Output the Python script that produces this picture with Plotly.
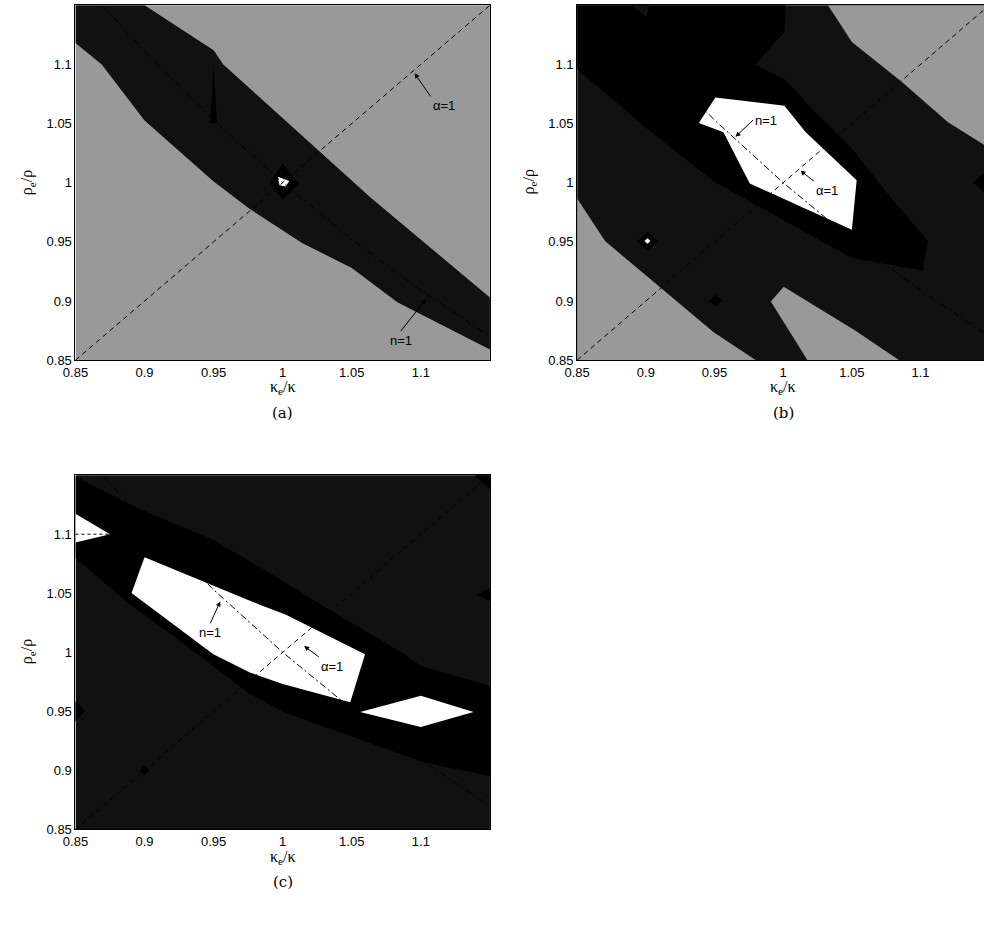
import plotly.graph_objects as go

W, H = 984, 927
GRAY, DARK, BLACK, WHITE = "#999999", "#111111", "#000000", "#ffffff"

# ---------------- data ----------------
tick_vals = [0.85, 0.9, 0.95, 1.0, 1.05, 1.1]
tick_text = ["0.85", "0.9", "0.95", "1", "1.05", "1.1"]

full_x = [0.85, 1.16, 1.16, 0.85]
full_y = [0.85, 0.85, 1.16, 1.16]

alpha_x = [0.85, 1.16]
alpha_y = [0.85, 1.16]
n_x = [0.87, 0.9, 0.95, 1.0, 1.05, 1.1, 1.15]
n_y = [1.149, 1.111, 1.053, 1.0, 0.952, 0.909, 0.870]

# panel (a)
a_band_x = [0.85, 0.9, 0.95, 0.957, 1.064, 1.15, 1.15, 1.083, 1.05, 1.014, 0.976, 0.95, 0.9, 0.869, 0.85]
a_band_y = [1.15, 1.15, 1.112, 1.100, 0.987, 0.903, 0.859, 0.899, 0.928, 0.949, 0.978, 1.001, 1.0525, 1.100, 1.118]
a_spike_x = [0.95, 0.9475, 0.9525]
a_spike_y = [1.099, 1.05, 1.05]
a_diam_x = [0.9905, 1.0, 1.0118, 1.0]
a_diam_y = [1.0, 1.0165, 0.999, 0.986]
a_white_x = [0.9964, 1.0048, 1.002, 0.9977]
a_white_y = [1.005, 1.0014, 0.9967, 0.9978]

# panel (b)
b_gray_ur_x = [1.027, 1.05, 1.086, 1.12, 1.16, 1.16]
b_gray_ur_y = [1.16, 1.119, 1.0855, 1.051, 1.022, 1.16]
b_gray_ll_x = [0.85, 0.8703, 0.9494, 0.9802, 0.85]
b_gray_ll_y = [0.9867, 0.9507, 0.8735, 0.85, 0.85]
b_gray_w_x = [0.991, 1.0004, 1.0521, 1.0845, 1.0177]
b_gray_w_y = [0.8995, 0.9121, 0.8752, 0.85, 0.85]
b_black_x = [0.85, 1.002, 1.001, 0.9795, 1.001, 1.0226, 1.05, 1.0787, 1.1053, 1.1017, 1.05, 0.978, 0.9494, 0.9012, 0.85]
b_black_y = [1.16, 1.16, 1.1277, 1.1, 1.0874, 1.0606, 1.0289, 0.9869, 0.9507, 0.9255, 0.9364, 0.9826, 1.001, 1.0455, 1.0958]
b_notch_x = [0.8776, 0.9048, 0.9005]
b_notch_y = [1.16, 1.16, 1.1402]
b_white_x = [0.9386, 0.9506, 1.0009, 1.0164, 1.0535, 1.05, 0.9757, 0.9565]
b_white_y = [1.0505, 1.0721, 1.065, 1.0427, 1.0021, 0.9602, 0.9993, 1.0427]
b_d1_x = [0.894, 0.9012, 0.9084, 0.9012]
b_d1_y = [0.9507, 0.9587, 0.9507, 0.9427]
b_d1w_x = [0.899, 0.9012, 0.9034, 0.9012]
b_d1w_y = [0.9507, 0.953, 0.9507, 0.9484]
b_d2_x = [0.946, 0.9508, 0.9556, 0.9508]
b_d2_y = [0.9003, 0.9053, 0.9003, 0.8953]
b_d3_x = [1.1385, 1.15, 1.1615, 1.15]
b_d3_y = [1.0, 1.012, 1.0, 0.988]

# panel (c)
c_band_x = [0.85, 0.8881, 0.9476, 0.9762, 1.0239, 1.0881, 1.1, 1.16, 1.16, 1.0998, 1.0, 0.9762, 0.9239, 0.8881, 0.85]
c_band_y = [1.149, 1.1257, 1.0963, 1.0773, 1.0431, 0.9984, 0.9885, 0.9684, 0.8925, 0.9077, 0.9497, 0.9648, 1.011, 1.0418, 1.0796]
c_white_x = [0.8906, 0.9, 0.9834, 1.0024, 1.0596, 1.0489, 1.0, 0.9762, 0.9498]
c_white_y = [1.0502, 1.0804, 1.0403, 1.0319, 0.9984, 0.9578, 0.9732, 0.983, 0.9984]
c_tri_x = [0.85, 0.875, 0.85]
c_tri_y = [1.1173, 1.0999, 1.093]
c_wd_x = [1.056, 1.1, 1.1381, 1.1]
c_wd_y = [0.9494, 0.9633, 0.9494, 0.9368]
c_d1_x = [0.8429, 0.85, 0.8571, 0.85]
c_d1_y = [0.95, 0.9585, 0.95, 0.9415]
c_d2_x = [0.8964, 0.9, 0.9036, 0.9]
c_d2_y = [0.9, 0.9042, 0.9, 0.8958]
c_d3_x = [1.1405, 1.15, 1.1595, 1.15]
c_d3_y = [1.049, 1.0545, 1.049, 1.0435]
c_d4_x = [1.139, 1.15, 1.161, 1.15]
c_d4_y = [1.15, 1.162, 1.15, 1.138]
c_dot_x = [0.85, 0.875]
c_dot_y = [1.1, 1.1]

# arrow labels: label, tail (text anchor) x/y, head x/y, text anchors
a_labels = ["α=1", "n=1"]
a_tail_x = [1.107, 1.0855]
a_tail_y = [1.073, 0.8746]
a_head_x = [1.0955, 1.1036]
a_head_y = [1.0925, 0.9014]
a_anchor = [("left", "top"), ("center", "top")]
b_labels = ["n=1", "α=1"]
b_tail_x = [0.9781, 1.0224]
b_tail_y = [1.053, 1.0013]
b_head_x = [0.9653, 1.0126]
b_head_y = [1.0388, 1.0102]
b_anchor = [("left", "middle"), ("left", "top")]
c_labels = ["n=1", "α=1"]
c_tail_x = [0.9476, 1.0262]
c_tail_y = [1.0245, 0.9961]
c_head_x = [0.9548, 1.0155]
c_head_y = [1.0431, 1.0053]
c_anchor = [("center", "top"), ("left", "top")]

captions = ["(a)", "(b)", "(c)"]

# ---------------- figure ----------------
fig = go.Figure()


def poly(xs, ys, color, ax):
    fig.add_trace(go.Scatter(x=xs, y=ys, fill="toself", fillcolor=color, mode="lines",
                             line=dict(width=0, color=color), hoverinfo="skip",
                             showlegend=False, xaxis="x" + ax, yaxis="y" + ax))


def line(xs, ys, dash, ax, width=1):
    fig.add_trace(go.Scatter(x=xs, y=ys, mode="lines",
                             line=dict(color="black", width=width, dash=dash),
                             hoverinfo="skip", showlegend=False,
                             xaxis="x" + ax, yaxis="y" + ax))


DASH = "5px,4px"
DASHDOT = "7px,3px,2px,3px"

# (a)
poly(full_x, full_y, GRAY, "")
poly(a_band_x, a_band_y, DARK, "")
poly(a_spike_x, a_spike_y, BLACK, "")
poly(a_diam_x, a_diam_y, BLACK, "")
poly(a_white_x, a_white_y, WHITE, "")
line(alpha_x, alpha_y, DASH, "")
line(n_x, n_y, DASHDOT, "")

# (b)
poly(full_x, full_y, DARK, "2")
poly(b_gray_ur_x, b_gray_ur_y, GRAY, "2")
poly(b_gray_ll_x, b_gray_ll_y, GRAY, "2")
poly(b_gray_w_x, b_gray_w_y, GRAY, "2")
poly(b_black_x, b_black_y, BLACK, "2")
poly(b_notch_x, b_notch_y, DARK, "2")
poly(b_white_x, b_white_y, WHITE, "2")
poly(b_d1_x, b_d1_y, BLACK, "2")
poly(b_d1w_x, b_d1w_y, WHITE, "2")
poly(b_d2_x, b_d2_y, BLACK, "2")
poly(b_d3_x, b_d3_y, BLACK, "2")
line(alpha_x, alpha_y, DASH, "2")
line(n_x, n_y, DASHDOT, "2")

# (c)
poly(full_x, full_y, DARK, "3")
poly(c_band_x, c_band_y, BLACK, "3")
poly(c_white_x, c_white_y, WHITE, "3")
poly(c_tri_x, c_tri_y, WHITE, "3")
poly(c_wd_x, c_wd_y, WHITE, "3")
poly(c_d1_x, c_d1_y, BLACK, "3")
poly(c_d2_x, c_d2_y, BLACK, "3")
poly(c_d3_x, c_d3_y, BLACK, "3")
poly(c_d4_x, c_d4_y, BLACK, "3")
line(c_dot_x, c_dot_y, "dot", "3")
line(alpha_x, alpha_y, DASH, "3")
line(n_x, n_y, DASHDOT, "3")


def px(x):
    return x / W


def py(y):
    return 1 - y / H


tickfont = dict(family="Liberation Sans", size=13, color="black")


def axis(domain, rng, anchor, mirror=True):
    return dict(domain=domain, range=rng, anchor=anchor, tickvals=tick_vals, ticktext=tick_text,
                ticks="", showgrid=False, zeroline=False, showline=True, linecolor="black",
                linewidth=1, mirror=mirror, tickfont=tickfont, fixedrange=True)


xa = [px(63.3), px(483.3)]
xb = [px(571.7), 1.0]
ytop = [py(363.3), py(5.3)]
ybot = [py(836.7), py(479.3)]
b_xmax = 0.85 + (984 - 571.7) / 1392

fig.update_layout(
    width=W, height=H, margin=dict(l=0, r=0, t=0, b=0),
    paper_bgcolor="white", plot_bgcolor="white",
    xaxis=axis(xa, [0.85, 1.15], "y"),
    yaxis=axis(ytop, [0.85, 1.15], "x"),
    xaxis2=axis(xb, [0.85, b_xmax], "y2"),
    yaxis2=axis(ytop, [0.85, 1.15], "x2", mirror=False),
    xaxis3=axis(xa, [0.85, 1.15], "y3"),
    yaxis3=axis(ybot, [0.85, 1.15], "x3"),
)

annfont = dict(family="Liberation Sans", size=13, color="black")
anns = []
for suffix, labs, tx, ty, hx, hy, anc in [
        ("", a_labels, a_tail_x, a_tail_y, a_head_x, a_head_y, a_anchor),
        ("2", b_labels, b_tail_x, b_tail_y, b_head_x, b_head_y, b_anchor),
        ("3", c_labels, c_tail_x, c_tail_y, c_head_x, c_head_y, c_anchor)]:
    for lab, x0, y0, x1, y1, (xan, yan) in zip(labs, tx, ty, hx, hy, anc):
        anns.append(dict(x=x1, y=y1, ax=x0, ay=y0, xref="x" + suffix, yref="y" + suffix,
                         axref="x" + suffix, ayref="y" + suffix, text=lab, showarrow=True,
                         xanchor=xan, yanchor=yan,
                         arrowhead=2, arrowsize=1, arrowwidth=1, arrowcolor="black",
                         standoff=0, font=annfont, borderpad=1))

titlefont = dict(family="Liberation Serif", size=16, color="black")
capfont = dict(family="DejaVu Serif", size=15, color="black")
title_pos = [(273.3, 363.3), (780.7, 363.3), (273.3, 836.7)]
for cap, (cx, axis_y) in zip(captions, title_pos):
    anns.append(dict(x=px(cx), y=py(axis_y + 28), xref="paper", yref="paper", showarrow=False,
                     xanchor="center", yanchor="middle",
                     text="κ<sub>e</sub>/κ", font=titlefont))
    anns.append(dict(x=px(cx), y=py(axis_y + 53), xref="paper", yref="paper", showarrow=False,
                     xanchor="center", yanchor="middle", text=cap, font=capfont))
for cy, lx in [(184, 15), (184, 523), (657, 15)]:
    anns.append(dict(x=px(lx), y=py(cy), xref="paper", yref="paper", showarrow=False,
                     xanchor="center", yanchor="middle",
                     text="ρ<sub>e</sub>/ρ", font=titlefont, textangle=-90))

fig.update_layout(annotations=anns)
fig.write_html("out.html")
